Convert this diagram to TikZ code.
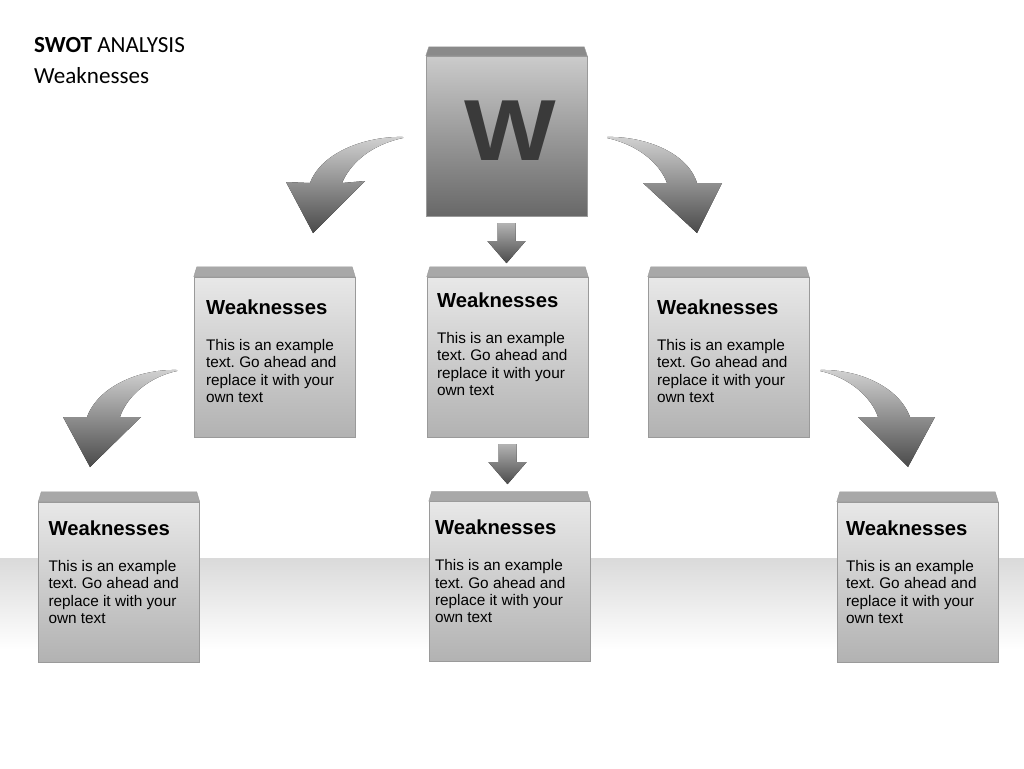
\documentclass[tikz,border=0pt]{standalone}
\usepackage{fontspec}
\newfontfamily\arialfont{Liberation Sans}
\newfontfamily\titlefont{Carlito}
\usetikzlibrary{calc}
\definecolor{facetop}{HTML}{E8E8E8}
\definecolor{facebot}{HTML}{B2B2B2}
\definecolor{bevelcol}{HTML}{A8A8A8}
\definecolor{wtop}{HTML}{CBCBCB}
\definecolor{wbot}{HTML}{686868}
\definecolor{wbevel}{HTML}{8A8A8A}
\definecolor{arrowtop}{HTML}{D2D2D2}
\definecolor{arrowbot}{HTML}{4A4A4A}
\definecolor{bandtop}{HTML}{DADADA}
\definecolor{edgecol}{HTML}{9A9A9A}
\definecolor{wletter}{HTML}{3A3A3A}
\frenchspacing

\begin{document}
\begin{tikzpicture}[x=0.3mm,y=-0.3mm]
      \tikzstyle{face}=[rectangle,draw=edgecol,line width=0.4pt,top color=facetop,bottom color=facebot,minimum width=48.3mm,minimum height=48mm,inner sep=0]
      \tikzstyle{wface}=[face,top color=wtop,bottom color=wbot]
      \tikzstyle{bevel}=[fill=bevelcol,draw=edgecol,line width=0.3pt]
      \tikzstyle{head}=[anchor=west,inner sep=0,font=\arialfont\bfseries\fontsize{17.3}{20}\selectfont]
      \tikzstyle{body}=[anchor=north west,inner sep=0,align=left,font=\arialfont\fontsize{13.1}{14.9}\selectfont]
      \tikzstyle{title text}=[anchor=base west,inner sep=0,font=\titlefont\fontsize{19.7}{22}\selectfont]
      \tikzstyle{bigarrow}=[top color=arrowtop,bottom color=arrowbot]
      \tikzstyle{smallarrow}=[top color=arrowtop!85!black,bottom color=arrowbot]

      \useasboundingbox (0,0) rectangle (1024,768);
      \fill[white] (0,0) rectangle (1024,768);
      % floor band
      \fill[top color=bandtop,bottom color=white] (0,558) rectangle (1024,650);

      % title
      \node[title text] (title) at (34,52) {\textbf{SWOT} ANALYSIS};
      \node[title text] (subtitle) at (34,83) {Weaknesses};

      % W block
      \node[wface] (w) at (506.5,136) {};
      \filldraw[bevel,fill=wbevel] (w.north west) -- ($(w.north west)+(3,-9)$) -- ($(w.north east)+(-3,-9)$) -- (w.north east) -- cycle;
      \node[inner sep=0,text=wletter,xscale=1.12,font=\arialfont\bfseries\fontsize{74}{74}\selectfont] (wletter) at (510,131) {W};

      % text blocks
      \foreach \n/\x/\y/\d/\t in {m1/274.5/357/12/30, m2/507.5/357/10/23, m3/728.5/357/9/30,
                                  b1/119/582/10/26, b2/509.5/581.5/6/26, b3/917.5/582/9/26}{
        \node[face] (\n) at (\x,\y) {};
        \filldraw[bevel] (\n.north west) -- ($(\n.north west)+(3,-10)$) -- ($(\n.north east)+(-3,-10)$) -- (\n.north east) -- cycle;
        \node[head] (h\n) at ($(\n.north west)+(\d,\t)$) {Weaknesses};
        \node[body] (t\n) at ($(\n.north west)+(\d,\t+32)$) {This is an example\\text. Go ahead and\\replace it with your\\own text};
      }

      % curved arrows
      \fill[bigarrow] (403,137) .. controls (368,136) and (322,151) .. (310,183) -- (286,182) -- (313,233) -- (365,181) -- (342,183) .. controls (350,164) and (370,145) .. (403,138) -- cycle;
      \fill[bigarrow] (607,137) .. controls (642,136) and (687,151) .. (697,183) -- (722,183) -- (697,233) -- (643,183) -- (667,183) .. controls (660,164) and (639,145) .. (607,138) -- cycle;
      \fill[bigarrow] (177,370) .. controls (138,369) and (98,387) .. (87,417) -- (63,417) -- (90,467) -- (141,417) -- (120,417) .. controls (127,396) and (149,377) .. (177,371) -- cycle;
      \fill[bigarrow] (820,370) .. controls (859,369) and (899,387) .. (910,417) -- (935,417) -- (908,467) -- (858,417) -- (878,417) .. controls (871,396) and (848,377) .. (820,371) -- cycle;

      % straight arrows
      \foreach \a in {w,m2}{
        \fill[smallarrow] ($(\a.south)+(-9,7)$) -- ++(18,0) -- ++(0,18) -- ++(10,0) -- ++(-19,22) -- ++(-19,-22) -- ++(10,0) -- cycle;
      }
\end{tikzpicture}
\end{document}
